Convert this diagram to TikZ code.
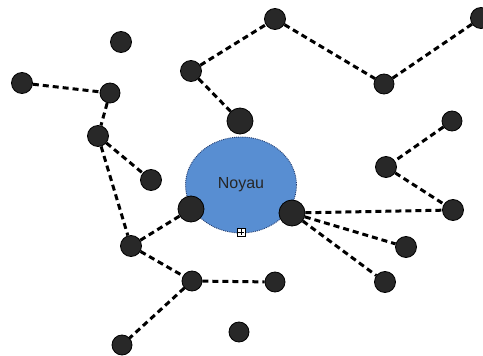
\documentclass[tikz,border=0pt]{standalone}
\usepackage{fontspec}
\setsansfont{Liberation Sans}
\usetikzlibrary{shapes.geometric}
\definecolor{coreblue}{RGB}{88,142,210}
\definecolor{coreedge}{RGB}{35,60,110}
\definecolor{dotfill}{RGB}{40,40,40}
\tikzset{
  dot/.style={circle, draw=black, line width=0.8pt, fill=dotfill, inner sep=0pt, minimum size=21pt},
  bigdot/.style={dot, minimum size=26pt},
  smalldot/.style={dot, minimum size=20pt},
  link/.style={draw=black, line width=3pt, dash pattern=on 6pt off 4pt},
  core/.style={ellipse, draw=coreedge, densely dotted, line width=0.9pt, fill=coreblue, minimum width=111pt, minimum height=96pt, inner sep=0pt, font=\sffamily\fontsize{16}{18}\selectfont, text=black!85},
  expander/.style={rectangle, draw=black, line width=0.6pt, fill=white, minimum size=8pt, inner sep=0pt}
}
\begin{document}
\begin{tikzpicture}[x=1pt,y=-1pt]
\useasboundingbox (0,0) rectangle (483,356);
\clip (0,0) rectangle (483,356);
\node[core] (noyau) at (241,185) {Noyau};
\node[expander] (exp) at (241,232) {};
\draw[line width=0.6pt] ([xshift=-2.6pt]exp.center) -- ([xshift=2.6pt]exp.center);
\draw[line width=0.6pt] ([yshift=-2.6pt]exp.center) -- ([yshift=2.6pt]exp.center);

\node[dot] (n1) at (121,42) {};
\node[dot] (n2) at (22,83) {};
\node[smalldot] (n3) at (110,93) {};
\node[dot] (n4) at (98,136) {};
\node[dot] (n5) at (151,180) {};
\node[dot] (n6) at (191,71) {};
\node[dot] (n7) at (275,19) {};
\node[dot] (n8) at (481,18) {};
\node[smalldot] (n9) at (384,84) {};
\node[bigdot] (n10) at (240,121) {};
\node[smalldot] (n11) at (452,121) {};
\node[dot] (n12) at (386,167) {};
\node[bigdot] (n13) at (191,209) {};
\node[bigdot] (n14) at (292,213) {};
\node[dot] (n15) at (453,210) {};
\node[dot] (n16) at (131,246) {};
\node[dot] (n17) at (406,247) {};
\node[smalldot] (n18) at (192,281) {};
\node[smalldot] (n19) at (275,282) {};
\node[dot] (n20) at (385,282) {};
\node[smalldot] (n21) at (239,332) {};
\node[smalldot] (n22) at (122,345) {};

\draw[link] (n2) -- (n3);
\draw[link] (n3) -- (n4);
\draw[link] (n4) -- (n5);
\draw[link] (n4) -- (n16);
\draw[link] (n16) -- (n13);
\draw[link] (n16) -- (n18);
\draw[link] (n18) -- (n19);
\draw[link] (n18) -- (n22);
\draw[link] (n6) -- (n7);
\draw[link] (n6) -- (n10);
\draw[link] (n7) -- (n9);
\draw[link] (n9) -- (n8);
\draw[link] (n11) -- (n12);
\draw[link] (n12) -- (n15);
\draw[link] (n14) -- (n15);
\draw[link] (n14) -- (n17);
\draw[link] (n14) -- (n20);
\end{tikzpicture}
\end{document}
